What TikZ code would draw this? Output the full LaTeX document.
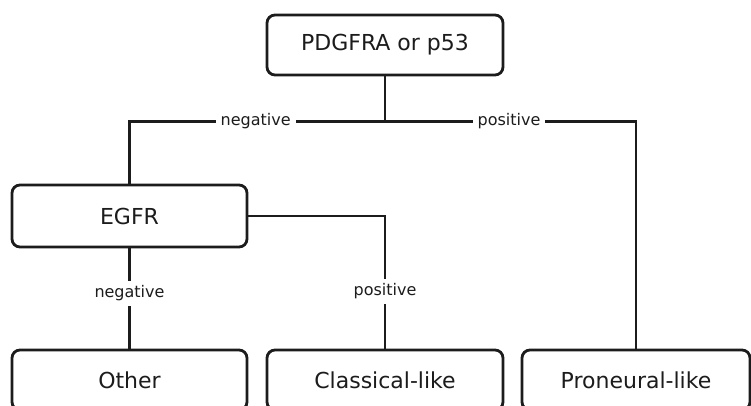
\documentclass[tikz,border=0pt]{standalone}
\usepackage{fontspec}
\setmainfont{DejaVu Sans}
\usetikzlibrary{positioning,calc}
\definecolor{TreeInk}{HTML}{1C1C1C}

\begin{document}
\begin{tikzpicture}[
    x=1pt, y=-1pt,
    box/.style={draw=TreeInk, line width=2.8pt, rounded corners=8pt, minimum height=60pt, minimum width=235pt, fill=white, text=TreeInk, font=\fontsize{22}{26}\selectfont},
    branch/.style={draw=TreeInk, line width=2.6pt},
    lab/.style={fill=white, inner sep=5pt, text=TreeInk, font=\fontsize{16}{19}\selectfont}
  ]
    \useasboundingbox (0,0) rectangle (751,406);
    \node[box, minimum width=236pt] (marker) at (385,45) {PDGFRA or p53};
    \node[box, minimum height=62pt] (egfr) at (129.5,216) {EGFR};
    \node[box] (other) at (129.5,380) {Other};
    \node[box, minimum width=236pt] (classical) at (385,380) {Classical-like};
    \node[box, minimum width=228pt] (proneural) at (636,380) {Proneural-like};
    \coordinate (split) at ($(marker.south)+(0,45)$);

    \draw[branch] (marker.south) -- (split);
    \draw[branch] (split) -| node[lab, pos=0.253] {negative} (egfr.north);
    \draw[branch] (split) -| node[lab, pos=0.247] {positive} (proneural.north);
    \draw[branch] (egfr.south) -- node[lab, pos=0.45] {negative} (other.north);
    \draw[branch] (egfr.east) -| node[lab, pos=0.785] {positive} (classical.north);
  \end{tikzpicture}
\end{document}
